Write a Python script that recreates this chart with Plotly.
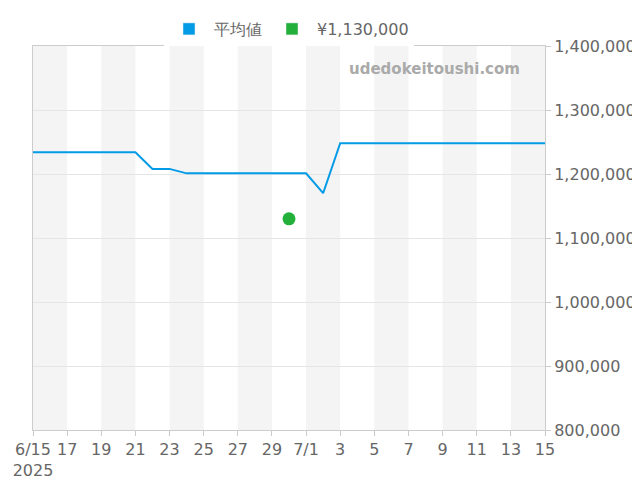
import plotly.graph_objects as go
import pandas as pd

dates = pd.date_range("2025-06-15", "2025-07-15", freq="D")
avg_price = [1234000] * 7 + [1208000, 1208000] + [1201000] * 8 + [1170000] + [1248000] * 13
point_dates = ["2025-06-30"]
point_prices = [1130000]

tick_dates = dates[::2]
tick_text = ["6/15<br>2025"] + [
    "7/1" if d.day == 1 else str(d.day) for d in tick_dates[1:]
]

fig = go.Figure()
fig.add_trace(go.Scatter(
    x=dates, y=avg_price, mode="lines", showlegend=False,
    line=dict(color="#039be5", width=2),
))
fig.add_trace(go.Scatter(
    x=point_dates, y=point_prices, mode="markers", showlegend=False,
    marker=dict(color="#22b03a", size=13),
))
# legend swatches as boxes
fig.add_trace(go.Bar(x=[None], y=[None], name="平均値", marker_color="#039be5"))
fig.add_trace(go.Bar(x=[None], y=[None], name="¥1,130,000", marker_color="#22b03a"))

# alternating background bands every 2 days
for i in range(0, len(tick_dates) - 1, 2):
    fig.add_vrect(x0=tick_dates[i], x1=tick_dates[i + 1],
                  fillcolor="#f4f4f4", line_width=0, layer="below")

fig.add_annotation(text="<b>udedokeitoushi.com</b>", xref="paper", yref="paper",
                   x=0.955, y=0.97, xanchor="right", yanchor="top", showarrow=False,
                   font=dict(size=15, color="#aaaaaa", family="DejaVu Sans"))

fig.update_layout(
    width=640, height=480,
    margin=dict(l=25, r=103, t=38, b=58, autoexpand=False),
    paper_bgcolor="white", plot_bgcolor="white",
    font=dict(family="DejaVu Sans", color="#666666", size=16),
    legend=dict(orientation="h", x=0.5, xanchor="center", y=1.0, yanchor="bottom",
                font=dict(size=16), itemwidth=40),
    xaxis=dict(range=[dates[0], dates[-1]], tickvals=tick_dates, ticktext=tick_text,
               tickangle=0, automargin=False,
               showgrid=False, showline=True, linecolor="#cccccc", mirror=True,
               ticks="outside", tickcolor="#cccccc", ticklen=5),
    yaxis=dict(range=[800000, 1400000], side="right", dtick=100000, tickformat=",",
               automargin=False,
               gridcolor="#e5e5e5", showline=True, linecolor="#cccccc", mirror=True,
               ticks="outside", tickcolor="#cccccc", ticklen=5),
)

fig.write_html("out.html")
